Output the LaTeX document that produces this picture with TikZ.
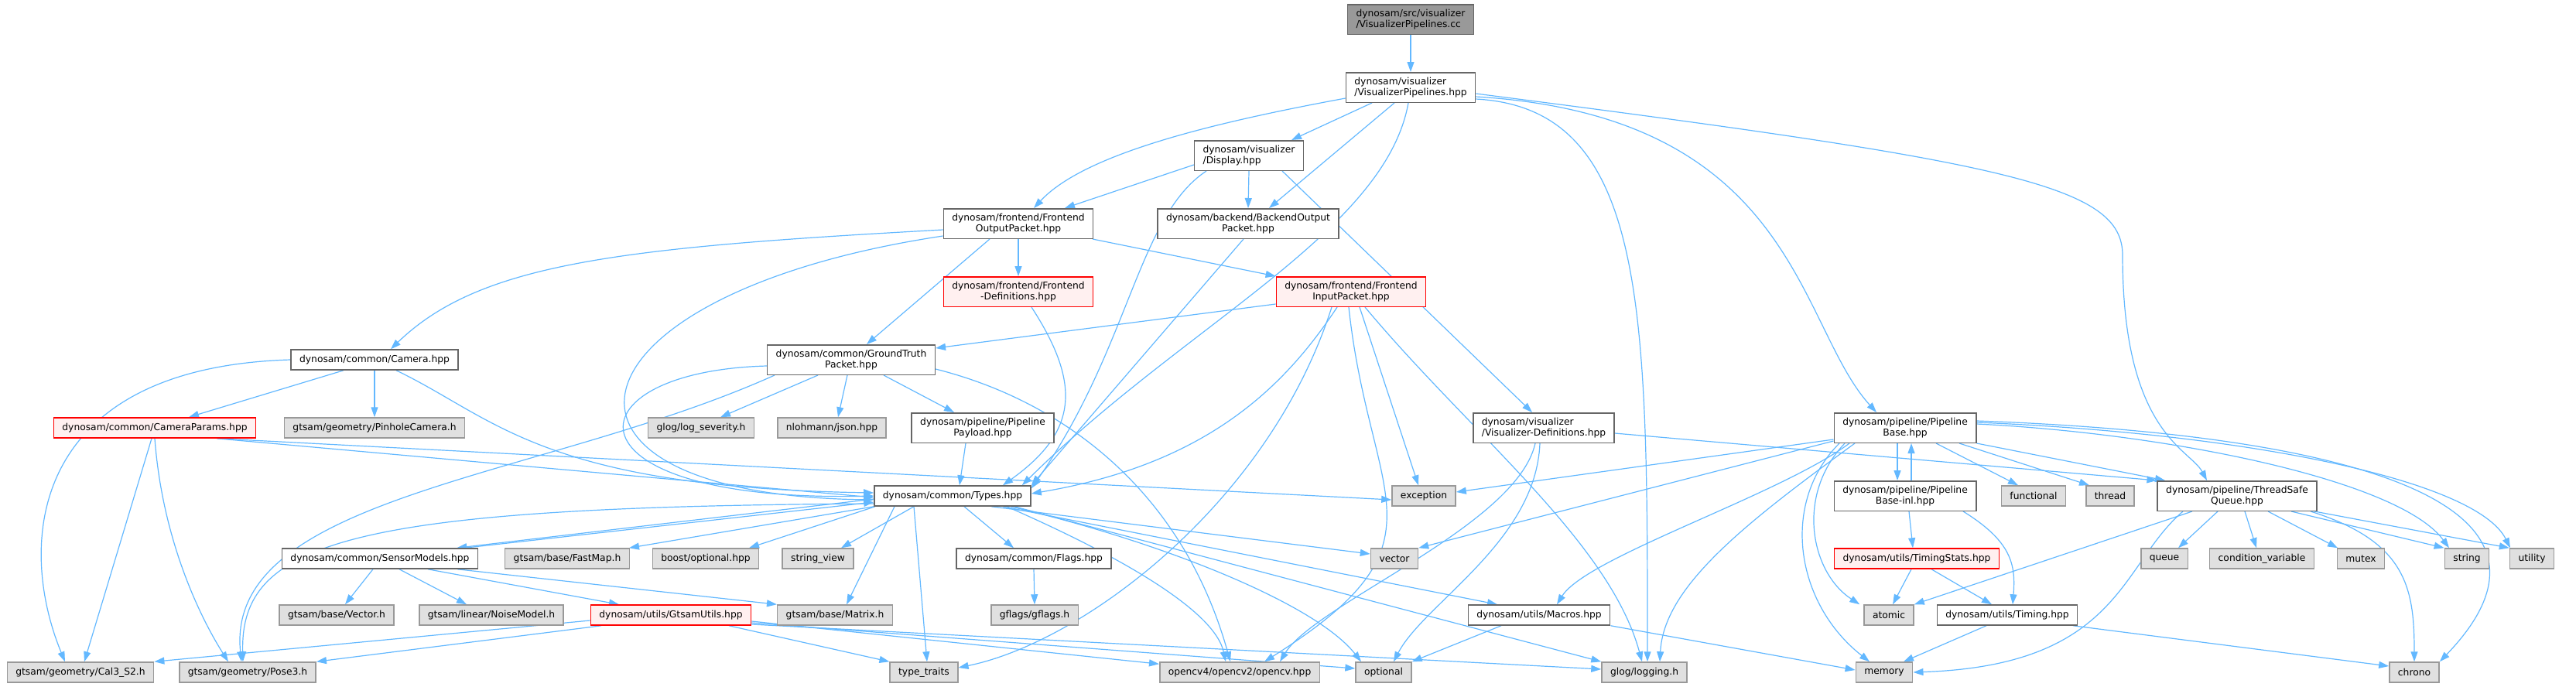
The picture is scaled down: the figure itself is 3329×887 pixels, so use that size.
\documentclass[tikz,border=0pt]{standalone}
\usepackage{fontspec}
\setmainfont{DejaVu Sans}
\usetikzlibrary{arrows.meta,backgrounds}
\definecolor{edgeblue}{HTML}{63B8FF}
\definecolor{boxline}{HTML}{666666}
\definecolor{extline}{HTML}{999999}
\definecolor{extfill}{HTML}{E0E0E0}
\definecolor{warnfill}{HTML}{FFF0F0}
\begin{document}
\begin{tikzpicture}[x=1pt,y=-1pt,
    inc/.style={draw=boxline,fill=white,line width=1.5pt,inner xsep=11pt,inner ysep=6pt,
      minimum height=26pt,align=center,font=\fontsize{12.3}{14.6}\selectfont},
    sysinc/.style={inc,draw=extline,fill=extfill},
    missing/.style={inc,draw=red,fill=warnfill},
    rootfile/.style={inc,fill=extline},
    dep/.style={draw=edgeblue,line width=1.2pt,-{Triangle[length=13pt,width=9pt]}}]
    \useasboundingbox (0,0) rectangle (3329,887);
    % rows
    \node[rootfile,align=left] (root) at (1823,25) {dynosam/src/visualizer\\/VisualizerPipelines.cc};
    \node[inc,align=left] (vp) at (1823,113) {dynosam/visualizer\\/VisualizerPipelines.hpp};
    \node[inc,align=left] (disp) at (1614,201) {dynosam/visualizer\\/Display.hpp};
    \node[inc] (fop) at (1316,289) {dynosam/frontend/Frontend\\OutputPacket.hpp};
    \node[inc] (bop) at (1613,289) {dynosam/backend/BackendOutput\\Packet.hpp};
    \node[missing] (fdef) at (1316,377) {dynosam/frontend/Frontend\\-Definitions.hpp};
    \node[missing] (fip) at (1746,377) {dynosam/frontend/Frontend\\InputPacket.hpp};
    \node[inc] (cam) at (484,465) {dynosam/common/Camera.hpp};
    \node[inc] (gt) at (1100,465) {dynosam/common/GroundTruth\\Packet.hpp};
    \node[missing] (camp) at (200,553) {dynosam/common/CameraParams.hpp};
    \node[sysinc] (pinhole) at (484,553) {gtsam/geometry/PinholeCamera.h};
    \node[sysinc] (logsev) at (906,553) {glog/log\_severity.h};
    \node[sysinc] (json) at (1075,553) {nlohmann/json.hpp};
    \node[inc] (payload) at (1270,553) {dynosam/pipeline/Pipeline\\Payload.hpp};
    \node[inc,align=left] (vdef) at (1995,553) {dynosam/visualizer\\/Visualizer-Definitions.hpp};
    \node[inc] (pbase) at (2462,553) {dynosam/pipeline/Pipeline\\Base.hpp};
    \node[inc] (types) at (1231,641) {dynosam/common/Types.hpp};
    \node[sysinc] (exc) at (1840,641) {exception};
    \node[inc] (pinl) at (2462,641) {dynosam/pipeline/Pipeline\\Base-inl.hpp};
    \node[sysinc] (func) at (2628,641) {functional};
    \node[sysinc] (thread) at (2727,641) {thread};
    \node[inc] (tsq) at (2891,641) {dynosam/pipeline/ThreadSafe\\Queue.hpp};
    \node[inc] (sensor) at (491,722) {dynosam/common/SensorModels.hpp};
    \node[sysinc] (fastmap) at (733,722) {gtsam/base/FastMap.h};
    \node[sysinc] (bopt) at (912,722) {boost/optional.hpp};
    \node[sysinc] (sview) at (1057,722) {string\_view};
    \node[inc] (flags) at (1336,722) {dynosam/common/Flags.hpp};
    \node[sysinc] (vec) at (1802,722) {vector};
    \node[missing] (tstats) at (2477,722) {dynosam/utils/TimingStats.hpp};
    \node[sysinc] (queue) at (2797,722) {queue};
    \node[sysinc] (condvar) at (2923,722) {condition\_variable};
    \node[sysinc] (mutex) at (3051,722) {mutex};
    \node[sysinc] (string) at (3188,722) {string};
    \node[sysinc] (utility) at (3272,722) {utility};
    \node[sysinc] (vech) at (435,795) {gtsam/base/Vector.h};
    \node[sysinc] (noise) at (635,795) {gtsam/linear/NoiseModel.h};
    \node[missing] (gtu) at (867,795) {dynosam/utils/GtsamUtils.hpp};
    \node[sysinc] (matrix) at (1079,795) {gtsam/base/Matrix.h};
    \node[sysinc] (gflags) at (1337,795) {gflags/gflags.h};
    \node[inc] (macros) at (1989,795) {dynosam/utils/Macros.hpp};
    \node[sysinc] (atomic) at (2441,795) {atomic};
    \node[inc] (timing) at (2594,795) {dynosam/utils/Timing.hpp};
    \node[sysinc] (cal3) at (104,869) {gtsam/geometry/Cal3\_S2.h};
    \node[sysinc] (pose3) at (320,869) {gtsam/geometry/Pose3.h};
    \node[sysinc] (ttraits) at (1194,869) {type\_traits};
    \node[sysinc] (opencv) at (1602,869) {opencv4/opencv2/opencv.hpp};
    \node[sysinc] (optional) at (1788,869) {optional};
    \node[sysinc] (logging) at (2125,869) {glog/logging.h};
    \node[sysinc] (memory) at (2435,869) {memory};
    \node[sysinc] (chrono) at (3120,869) {chrono};
    \begin{pgfonlayer}{background}
    % includes of the source file and its header
    \draw[dep] (root) -- (vp);
    \draw[dep] ([yshift=-14]vp.west) .. controls (1560,160) and (1400,200) .. ([xshift=20]fop.north);
    \draw[dep] ([xshift=-50]vp.south) -- ([xshift=55]disp.north);
    \draw[dep] ([xshift=-21]vp.south) -- ([xshift=27]bop.north);
    \draw[dep] ([xshift=-3]vp.south) .. controls (1790,300) and (1530,420) .. ([xshift=-12]types.north east);
    \draw[dep] ([yshift=-15]vp.east) .. controls (2129,140) and (2129,400) .. ([xshift=4]logging.north);
    \draw[dep] ([yshift=-12]vp.east) .. controls (2322,150) and (2322,420) .. ([xshift=-37]pbase.north);
    \draw[dep] ([yshift=-8]vp.east) .. controls (2600,210) and (2743,240) .. (2743,330) .. controls (2743,560) and (2830,580) .. ([xshift=-39]tsq.north);
    % display
    \draw[dep] ([yshift=-12]disp.west) -- ([xshift=60]fop.north);
    \draw[dep] (disp.south) -- (bop.north);
    \draw[dep] ([xshift=-55]disp.south) .. controls (1470,280) and (1460,450) .. ([yshift=-4]types.north east);
    \draw[dep] ([xshift=43]disp.south) -- ([xshift=-15]vdef.north);
    % frontend
    \draw[dep] ([yshift=-8]fop.west) .. controls (800,320) and (620,340) .. ([xshift=21]cam.north);
    \draw[dep] ([xshift=-37]fop.south) -- ([xshift=20]gt.north);
    \draw[dep] (fop.south) -- (fdef.north);
    \draw[dep] ([xshift=96]fop.south) -- (fip.north west);
    \draw[dep] ([yshift=-16]fop.west) .. controls (720,380) and (660,640) .. ([yshift=-5]types.west);
    \draw[dep] ([xshift=17]fdef.south) .. controls (1400,500) and (1390,560) .. ([xshift=65]types.north);
    \draw[dep] ([yshift=-16]fip.west) -- ([yshift=-5]gt.north east);
    \draw[dep] ([xshift=-18]fip.south) .. controls (1660,500) and (1560,600) .. ([yshift=3]types.east);
    \draw[dep] ([xshift=11]fip.south) -- ([xshift=-7]exc.north);
    \draw[dep] ([xshift=-3]fip.south) .. controls (1770,650) and (1880,700) .. ([xshift=32]opencv.north);
    \draw[dep] ([xshift=18]fip.south) .. controls (1900,560) and (2080,700) .. ([xshift=-3]logging.north);
    \draw[dep] ([xshift=-25]fip.south) .. controls (1640,650) and (1400,830) .. ([yshift=6]ttraits.east);
    \draw[dep] ([xshift=-6]bop.south) -- (types.north east);
    % ground truth and camera
    \draw[dep] ([yshift=-8]gt.west) .. controls (730,480) and (720,650) .. (types.west);
    \draw[dep] ([xshift=-99]gt.south) .. controls (700,620) and (290,640) .. ([xshift=-8]pose3.north);
    \draw[dep] ([xshift=-43]gt.south) -- ([xshift=25]logsev.north);
    \draw[dep] ([xshift=-5]gt.south) -- ([xshift=8]json.north);
    \draw[dep] ([xshift=42]gt.south) -- ([xshift=-37]payload.north);
    \draw[dep] ([yshift=-12]gt.east) .. controls (1380,520) and (1530,640) .. ([xshift=-12]opencv.north);
    \draw[dep] ([xshift=-40]cam.south) -- ([xshift=44]camp.north);
    \draw[dep] (cam.south) -- (pinhole.north);
    \draw[dep] ([xshift=28]cam.south) .. controls (640,540) and (700,630) .. ([yshift=4]types.west);
    \draw[dep] (cam.west) .. controls (40,475) and (20,700) .. ([xshift=-20]cal3.north);
    \draw[dep] ([xshift=-4]camp.south) -- ([xshift=5]cal3.north);
    \draw[dep] (camp.south) .. controls (210,700) and (260,800) .. ([xshift=-25]pose3.north);
    \draw[dep] ([xshift=80]camp.south) -- ([yshift=-2]types.west);
    \draw[dep] ([xshift=81]camp.south) -- ([yshift=-5]exc.west);
    \draw[dep] ([xshift=-22]payload.south) -- ([xshift=9]types.north);
    % visualizer definitions and pipeline
    \draw[dep] ([yshift=-7]vdef.east) -- (tsq.north west);
    \draw[dep] ([xshift=-11]vdef.south) .. controls (1960,680) and (1700,780) .. ([xshift=52]opencv.north);
    \draw[dep] ([xshift=-5]vdef.south) .. controls (1985,700) and (1840,780) .. ([xshift=13]optional.north);
    \draw[dep] ([yshift=-15]pbase.west) -- ([yshift=5]exc.east);
    \draw[dep] ([yshift=-17]pbase.west) -- (vec.north east);
    \draw[dep] ([xshift=-72]pbase.south) .. controls (2300,640) and (2050,720) .. ([xshift=23]macros.north);
    \draw[dep] ([xshift=-65]pbase.south) .. controls (2250,680) and (2150,760) .. ([xshift=20]logging.north);
    \draw[dep] ([xshift=-85]pbase.south) .. controls (2300,650) and (2320,780) .. ([xshift=-19]memory.north);
    \draw[dep] ([xshift=-78]pbase.south) .. controls (2320,640) and (2340,740) .. ([xshift=-5]atomic.north west);
    \draw[dep] ([xshift=-10]pbase.south) -- ([xshift=-10]pinl.north);
    \draw[dep] ([xshift=8]pinl.north) -- ([xshift=8]pbase.south);
    \draw[dep] ([xshift=40]pbase.south) -- ([xshift=-20]func.north);
    \draw[dep] ([xshift=70]pbase.south) -- ([xshift=-27]thread.north);
    \draw[dep] (pbase.south east) -- ([xshift=-93]tsq.north);
    \draw[dep] ([yshift=5]pbase.east) .. controls (2800,560) and (3100,620) .. ([xshift=-23]string.north);
    \draw[dep] ([yshift=7]pbase.east) .. controls (2900,560) and (3200,620) .. ([xshift=-28]utility.north);
    \draw[dep] ([yshift=9]pbase.east) .. controls (3000,560) and (3360,640) .. (chrono.north east);
    \draw[dep] ([xshift=5]pinl.south) -- ([xshift=-5]tstats.north);
    \draw[dep] ([xshift=75]pinl.south) .. controls (2600,700) and (2605,730) .. ([xshift=7]timing.north);
    \draw[dep] ([xshift=-7]tstats.south) -- ([xshift=5]atomic.north);
    \draw[dep] ([xshift=19]tstats.south) -- ([xshift=-20]timing.north);
    \draw[dep] ([xshift=-27]timing.south) -- ([xshift=25]memory.north);
    \draw[dep] ([xshift=85]timing.south) -- ([yshift=8]chrono.west);
    \draw[dep] ([xshift=-58]tsq.south) -- (atomic.north east);
    \draw[dep] ([xshift=-70]tsq.south) .. controls (2740,730) and (2740,860) .. (memory.east);
    \draw[dep] ([xshift=-25]tsq.south) -- ([xshift=18]queue.north);
    \draw[dep] ([xshift=10]tsq.south) -- ([xshift=-7]condvar.north);
    \draw[dep] ([xshift=40]tsq.south) -- ([xshift=-30]mutex.north);
    \draw[dep] ([xshift=70]tsq.south) -- (string.north west);
    \draw[dep] ([xshift=100]tsq.south) -- (utility.north west);
    \draw[dep] ([xshift=95]tsq.south) .. controls (3110,700) and (3120,760) .. (chrono.north);
    \draw[dep] ([xshift=-49]macros.south) -- (optional.north east);
    \draw[dep] (macros.south east) -- ([yshift=3]memory.west);
    % common types
    \draw[dep] ([yshift=-4]types.west) -- ([xshift=-28]sensor.north east);
    \draw[dep] ([xshift=-18]sensor.north east) -- ([yshift=-8]types.west);
    \draw[dep] (types.south west) -- ([xshift=80]fastmap.north);
    \draw[dep] ([xshift=-100]types.south) -- ([xshift=56]bopt.north);
    \draw[dep] ([xshift=-50]types.south) -- ([xshift=30]sview.north);
    \draw[dep] ([xshift=15]types.south) -- ([xshift=-26]flags.north);
    \draw[dep] ([xshift=50]types.south) -- ([yshift=6]vec.west);
    \draw[dep] ([xshift=-75]types.south) -- ([xshift=15]matrix.north);
    \draw[dep] ([xshift=-50]types.south) -- ([xshift=4]ttraits.north);
    \draw[dep] ([xshift=70]types.south) .. controls (1450,720) and (1570,790) .. ([xshift=-18]opencv.north);
    \draw[dep] ([xshift=75]types.south) .. controls (1500,700) and (1700,780) .. ([xshift=-29]optional.north);
    \draw[dep] ([xshift=80]types.south) -- (logging.north west);
    \draw[dep] ([xshift=65]types.south) -- ([xshift=-54]macros.north);
    \draw[dep] ([yshift=-10]types.west) .. controls (450,655) and (310,700) .. ([xshift=-6]pose3.north);
    \draw[dep] ([xshift=-9]sensor.south) -- ([xshift=11]vech.north);
    \draw[dep] ([xshift=25]sensor.south) -- ([xshift=-32]noise.north);
    \draw[dep] ([xshift=62]sensor.south) -- ([xshift=-67]gtu.north);
    \draw[dep] ([xshift=100]sensor.south) -- (matrix.north west);
    \draw[dep] ([yshift=-7]gtu.west) -- (cal3.north east);
    \draw[dep] ([xshift=-90]gtu.south) -- (pose3.north east);
    \draw[dep] ([xshift=75]gtu.south) -- (ttraits.north west);
    \draw[dep] ([yshift=-8]gtu.east) -- ([yshift=-3]opencv.north west);
    \draw[dep] ([yshift=-10]gtu.east) -- ([yshift=5]optional.west);
    \draw[dep] ([yshift=-12]gtu.east) -- ([yshift=4]logging.west);
    \draw[dep] (flags.south) -- (gflags.north);
    \end{pgfonlayer}
\end{tikzpicture}
\end{document}
